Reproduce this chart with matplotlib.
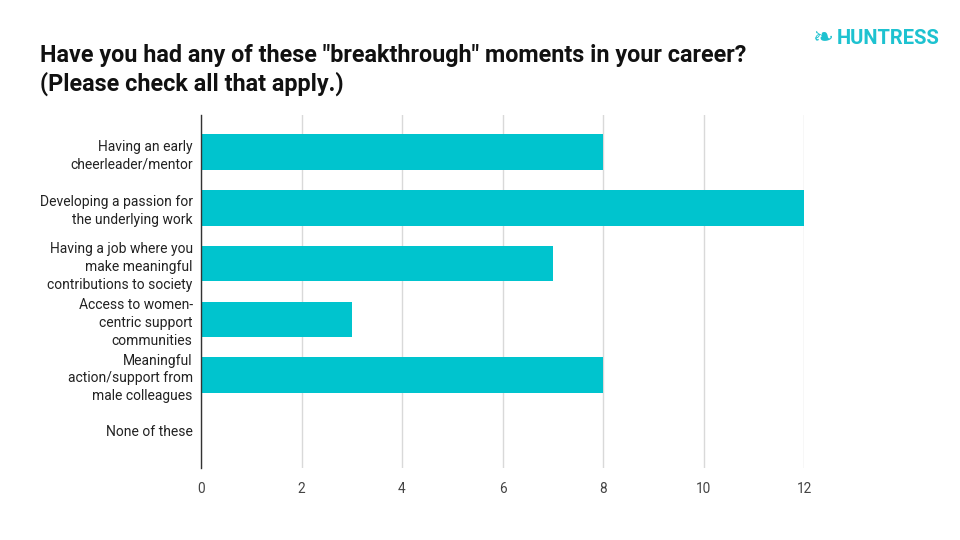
import matplotlib.pyplot as plt

plt.rcParams['font.family'] = ['Roboto', 'DejaVu Sans']

categories = [
    'Having an early\ncheerleader/mentor',
    'Developing a passion for\nthe underlying work',
    'Having a job where you\nmake meaningful\ncontributions to society',
    'Access to women-\ncentric support\ncommunities',
    'Meaningful\naction/support from\nmale colleagues',
    'None of these',
]
counts = [8, 12, 7, 3, 8, 0]
xticks = [0, 2, 4, 6, 8, 10, 12]

BAR = '#00C4CE'

fig = plt.figure(figsize=(9.6, 5.4), dpi=100)
ax = fig.add_axes([201 / 960, 1 - 468 / 540, (804 - 201) / 960, (468 - 115) / 540])

y = list(range(len(categories)))
ax.barh(y, counts, height=0.64, color=BAR, zorder=2)

ax.set_xlim(0, 12)
ax.set_ylim(len(categories) - 0.33, -0.67)
ax.set_xticks(xticks)
ax.set_xticklabels([str(t) for t in xticks])
ax.set_yticks(y)
ax.set_yticklabels(categories, fontsize=10, color='#222222', linespacing=1.35)
ax.tick_params(axis='y', length=0, pad=6)
ax.tick_params(axis='x', length=0, pad=10, labelsize=9.8, labelcolor='#444444')

ax.grid(axis='x', color='#d9d9d9', linewidth=1, zorder=0)
for s in ['top', 'right', 'bottom']:
    ax.spines[s].set_visible(False)
ax.spines['left'].set_color('#333333')
ax.spines['left'].set_linewidth(1)
ax.spines['left'].set_zorder(3)

fig.text(40 / 960, 1 - 70 / 540,
         'Have you had any of these "breakthrough" moments in your career?\n(Please check all that apply.)',
         fontsize=16.8, fontweight='bold', color='#111111', va='center', ha='left',
         linespacing=1.25)

# logo
fig.text(940 / 960, 1 - 38 / 540, 'HUNTRESS', fontsize=14.5, fontweight='bold',
         color='#1EC2D0', ha='right', va='center')
fig.text(823 / 960, 1 - 38 / 540, '\u2767', fontsize=18, color='#1EC2D0',
         ha='center', va='center', family=['DejaVu Sans'])

fig.savefig('out.png', dpi=100)
